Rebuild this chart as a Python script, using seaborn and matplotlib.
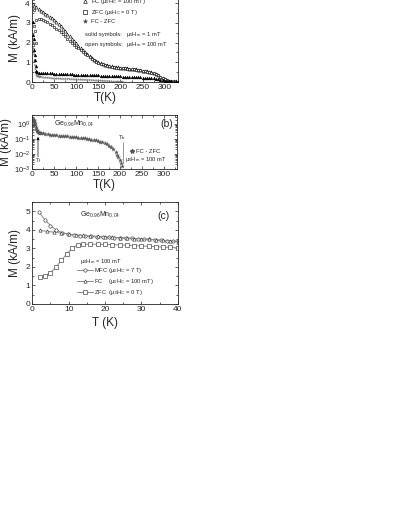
import matplotlib
matplotlib.use('Agg')
import matplotlib.pyplot as plt
from matplotlib.lines import Line2D
from matplotlib.ticker import MultipleLocator, LogLocator, NullFormatter
import seaborn as sns

# ---- panel (a): M(T) of Ge0.96Mn0.04, measured at 100 mT (open) and 1 mT (solid)
temp_a = [2, 5, 10, 15, 20, 25, 30, 35, 40, 45, 50, 55, 60, 65, 70, 75, 80, 85, 90, 95,
          100, 105, 110, 115, 120, 125, 130, 135, 140, 145, 150, 155, 160, 165, 170, 175,
          180, 185, 190, 195, 200, 205, 210, 215, 220, 225, 230, 235, 240, 245, 250, 255,
          260, 265, 270, 275, 280, 285, 290, 295, 300, 305, 310, 315, 320, 325, 330]
m_fc_100 = [3.95, 3.88, 3.78, 3.70, 3.62, 3.55, 3.47, 3.40, 3.32, 3.24,
            3.15, 3.05, 2.95, 2.83, 2.71, 2.58, 2.46, 2.33, 2.20, 2.08,
            1.96, 1.84, 1.72, 1.61, 1.50, 1.40, 1.30, 1.22, 1.14, 1.07,
            1.01, 0.95, 0.91, 0.87, 0.84, 0.81, 0.79, 0.77, 0.75, 0.74,
            0.72, 0.71, 0.70, 0.69, 0.68, 0.66, 0.65, 0.64, 0.62, 0.60,
            0.58, 0.56, 0.54, 0.52, 0.49, 0.45, 0.40, 0.34, 0.27, 0.20,
            0.14, 0.10, 0.07, 0.05, 0.04, 0.03, 0.02]
m_zfc_100 = [1.90, 2.85, 3.15, 3.20, 3.18, 3.14, 3.08, 3.02, 2.95, 2.88,
             2.80, 2.71, 2.62, 2.52, 2.42, 2.31, 2.20, 2.09, 1.98, 1.88,
             1.78, 1.70, 1.62, 1.53, 1.44, 1.35, 1.27, 1.19, 1.11, 1.04,
             0.98, 0.93, 0.89, 0.85, 0.82, 0.79, 0.77, 0.75, 0.73, 0.72,
             0.71, 0.70, 0.69, 0.68, 0.67, 0.65, 0.64, 0.63, 0.61, 0.59,
             0.57, 0.55, 0.53, 0.51, 0.48, 0.44, 0.39, 0.33, 0.26, 0.19,
             0.13, 0.09, 0.06, 0.04, 0.03, 0.02, 0.01]
# scattered open squares at the lowest temperatures
temp_zfc_low = [3, 4, 6, 8]
m_zfc_low = [4.2, 3.65, 2.6, 2.0]

temp_fc_1 = [2, 3, 4, 5, 6, 7, 8, 10, 12] + temp_a[3:]
m_fc_1 = [3.05, 2.4, 2.2, 1.6, 1.35, 1.1, 0.8, 0.55, 0.5,
          0.47, 0.46, 0.46, 0.45, 0.45, 0.44, 0.44, 0.43, 0.43, 0.42,
          0.42, 0.41, 0.41, 0.40, 0.40, 0.39, 0.38, 0.38, 0.37, 0.37,
          0.36, 0.36, 0.35, 0.35, 0.34, 0.34, 0.33, 0.33, 0.32, 0.32,
          0.31, 0.31, 0.30, 0.30, 0.29, 0.29, 0.28, 0.28, 0.27, 0.27,
          0.26, 0.26, 0.25, 0.25, 0.24, 0.24, 0.23, 0.22, 0.22, 0.21,
          0.20, 0.19, 0.18, 0.16, 0.14, 0.12, 0.09, 0.07, 0.05, 0.04,
          0.03, 0.02, 0.02, 0.01]

# ---- panel (b): FC - ZFC at 100 mT (log scale)
temp_b = [2, 3, 4, 5, 6, 7, 8, 9, 10, 11, 12, 14, 16, 18, 20,
          25, 30, 35, 40, 45, 50, 55, 60, 65, 70, 75, 80, 85, 90, 95, 100,
          105, 110, 115, 120, 125, 130, 135, 140, 145, 150, 155, 160, 165,
          170, 175, 180, 185, 190, 193, 196, 199, 202, 205]
m_diff_b = [2.2, 2.0, 1.7, 1.4, 1.1, 0.85, 0.65, 0.5, 0.4, 0.34, 0.30, 0.28, 0.27, 0.26, 0.25,
            0.235, 0.22, 0.21, 0.20, 0.19, 0.18, 0.175, 0.17, 0.165, 0.16, 0.155, 0.15, 0.145,
            0.14, 0.135, 0.13, 0.125, 0.12, 0.115, 0.11, 0.10, 0.095, 0.09, 0.085, 0.08,
            0.075, 0.068, 0.06, 0.052, 0.044, 0.036, 0.028, 0.02, 0.013, 0.009, 0.006,
            0.004, 0.0025, 0.0015]

# ---- panel (c): low temperature M(T) at 100 mT
temp_mfc = [1.8, 3.4, 5.0, 6.6, 8.2, 9.8, 11.4, 13.0, 14.6, 16.2, 17.8, 19.4, 21.0,
            22.6, 24.2, 25.8, 27.4, 29.0, 30.6, 32.2, 33.8, 35.4, 37.0, 38.6, 40.0]
m_mfc = [4.97, 4.55, 4.23, 3.98, 3.85, 3.77, 3.72, 3.68, 3.66, 3.64, 3.62, 3.61, 3.60,
         3.58, 3.57, 3.55, 3.54, 3.52, 3.50, 3.48, 3.46, 3.44, 3.42, 3.40, 3.38]
temp_fc_c = [2, 4, 6, 8, 10, 12, 14, 16, 18, 20, 22, 24, 26, 28, 30, 32, 34, 36, 38, 40]
m_fc_c = [3.97, 3.92, 3.87, 3.82, 3.77, 3.73, 3.70, 3.67, 3.65, 3.62,
          3.60, 3.58, 3.56, 3.53, 3.51, 3.48, 3.46, 3.43, 3.40, 3.36]
temp_zfc_c = [2, 3.5, 5, 6.5, 8, 9.5, 11, 12.5, 14, 16, 18, 20, 22, 24, 26, 28, 30,
              32, 34, 36, 38, 40]
m_zfc_c = [1.47, 1.50, 1.68, 1.98, 2.35, 2.70, 3.00, 3.18, 3.22, 3.22, 3.22, 3.21,
           3.20, 3.19, 3.17, 3.15, 3.13, 3.11, 3.09, 3.07, 3.05, 3.03]

sns.set_style('ticks')
plt.rcParams['font.family'] = ['Liberation Sans', 'DejaVu Sans']
plt.rcParams['mathtext.fontset'] = 'custom'
plt.rcParams['mathtext.rm'] = 'Liberation Sans'
plt.rcParams['mathtext.it'] = 'Liberation Sans'
plt.rcParams['mathtext.default'] = 'regular'

W, H = 399, 516
fig = plt.figure(figsize=(W / 100, H / 100), dpi=100)

small = 4.2  # annotation / legend text size


def px_axes(left, top, right, bottom):
    # axes rectangle given in pixel coords of the reference
    return fig.add_axes([left / W, 1 - bottom / H, (right - left) / W, (bottom - top) / H])


def style_axes(ax):
    for sp in ax.spines.values():
        sp.set_linewidth(0.6)
    ax.tick_params(which='both', direction='in', top=True, right=True, width=0.5,
                   labelsize=6, pad=1.5)
    ax.tick_params(which='major', length=2.5)
    ax.tick_params(which='minor', length=1.3)


mu = 'μ$_0$H'
sample = 'Ge$_{0.96}$Mn$_{0.04}$'

# ---------------- (a)
ax_a = px_axes(32, -6.7, 178, 82)
sns.scatterplot(x=temp_a, y=m_fc_100, marker='^', s=5, color='white',
                edgecolor='black', linewidth=0.4, ax=ax_a, zorder=3)
sns.scatterplot(x=temp_a, y=m_zfc_100, marker='s', s=4, color='white',
                edgecolor='black', linewidth=0.4, ax=ax_a, zorder=3)
sns.scatterplot(x=temp_zfc_low, y=m_zfc_low, marker='s', s=4, color='white',
                edgecolor='black', linewidth=0.4, ax=ax_a, zorder=3)
sns.scatterplot(x=temp_b, y=m_diff_b, marker='*', s=6, color='#777777',
                edgecolor='none', ax=ax_a, zorder=2)
sns.scatterplot(x=temp_fc_1, y=m_fc_1, marker='^', s=4, color='black',
                edgecolor='black', linewidth=0.3, ax=ax_a, zorder=4)
ax_a.set_xlim(0, 330)
ax_a.set_ylim(0, 4.5)
ax_a.xaxis.set_major_locator(MultipleLocator(50))
ax_a.xaxis.set_minor_locator(MultipleLocator(25))
ax_a.yaxis.set_major_locator(MultipleLocator(1))
ax_a.yaxis.set_minor_locator(MultipleLocator(0.5))
style_axes(ax_a)
ax_a.set_xlabel('T(K)', fontsize=8.5, labelpad=1)
ax_a.set_ylabel('M (kA/m)', fontsize=8.5, labelpad=3)

handles_a = [
    Line2D([], [], ls='', marker='^', ms=2.6, mfc='white', mec='black', mew=0.45),
    Line2D([], [], ls='', marker='s', ms=2.2, mfc='white', mec='black', mew=0.45),
    Line2D([], [], ls='', marker='*', ms=3.2, mfc='#444444', mec='#444444', mew=0.3),
]
labels_a = ['FC (' + mu + '$_C$ = 100 mT)', 'ZFC (' + mu + '$_C$ = 0 T)', 'FC - ZFC']
ax_a.legend(handles_a, labels_a, loc='upper left', bbox_to_anchor=(0.35, 0.955),
            frameon=False, fontsize=small, handlelength=0.8, handletextpad=0.6,
            labelspacing=0.3, borderpad=0, borderaxespad=0)
ax_a.text(0.363, 0.53, 'solid symbols:', transform=ax_a.transAxes, fontsize=small,
          va='center', ha='left')
ax_a.text(0.644, 0.53, mu + '$_m$ = 1 mT', transform=ax_a.transAxes, fontsize=small,
          va='center', ha='left')
ax_a.text(0.363, 0.425, 'open symbols:', transform=ax_a.transAxes, fontsize=small,
          va='center', ha='left')
ax_a.text(0.644, 0.425, mu + '$_m$ = 100 mT', transform=ax_a.transAxes, fontsize=small,
          va='center', ha='left')

# ---------------- (b)
ax_b = px_axes(32.3, 115, 177, 169)
sns.scatterplot(x=temp_b, y=m_diff_b, marker='*', s=9, color='#555555',
                edgecolor='#555555', linewidth=0.2, ax=ax_b)
ax_b.set_yscale('log')
ax_b.set_xlim(0, 330)
ax_b.set_ylim(1e-3, 4)
ax_b.xaxis.set_major_locator(MultipleLocator(50))
ax_b.xaxis.set_minor_locator(MultipleLocator(25))
ax_b.yaxis.set_major_locator(LogLocator(base=10, numticks=10))
ax_b.yaxis.set_minor_locator(LogLocator(base=10, subs=range(2, 10), numticks=10))
ax_b.yaxis.set_minor_formatter(NullFormatter())
style_axes(ax_b)
ax_b.tick_params(axis='y', labelsize=5.5)
ax_b.set_xlabel('T(K)', fontsize=8.5, labelpad=1)
ax_b.set_ylabel('M (kA/m)', fontsize=8.5, labelpad=1)
ax_b.text(0.15, 0.84, sample, transform=ax_b.transAxes, fontsize=5,
          va='center', ha='left')
ax_b.text(0.93, 0.84, '(b)', transform=ax_b.transAxes, fontsize=7.5,
          va='center', ha='center')
ax_b.annotate('', xy=(13, 0.14), xytext=(13, 0.0066),
              arrowprops=dict(arrowstyle='-|>', color='black', lw=0.5,
                              mutation_scale=4, shrinkA=0, shrinkB=0))
ax_b.text(14, 0.0034, 'T$_f$', fontsize=small, va='center', ha='center')
ax_b.plot([207, 207], [0.0025, 0.06], color='#888888', lw=0.6)
ax_b.text(205, 0.12, 'T$_b$', fontsize=small, va='center', ha='center')
ax_b.scatter([0.687], [0.333], marker='*', s=8, color='#555555',
             transform=ax_b.transAxes)
ax_b.text(0.72, 0.333, 'FC - ZFC', transform=ax_b.transAxes, fontsize=small,
          va='center', ha='left')
ax_b.text(0.64, 0.17, mu + '$_m$ = 100 mT', transform=ax_b.transAxes, fontsize=small,
          va='center', ha='left')

# ---------------- (c)
ax_c = px_axes(32.3, 202, 177.7, 304)
line_kw = dict(color='#8a8a8a', linewidth=0.7, markersize=2.4,
               markerfacecolor='white', markeredgecolor='#3a3a3a', markeredgewidth=0.45)
sns.lineplot(x=temp_mfc, y=m_mfc, marker='o', ax=ax_c, **line_kw)
sns.lineplot(x=temp_fc_c, y=m_fc_c, marker='^', ax=ax_c, **line_kw)
sns.lineplot(x=temp_zfc_c, y=m_zfc_c, marker='s', ax=ax_c, **line_kw)
ax_c.set_xlim(0, 40)
ax_c.set_ylim(0, 5.5)
ax_c.xaxis.set_major_locator(MultipleLocator(10))
ax_c.xaxis.set_minor_locator(MultipleLocator(5))
ax_c.yaxis.set_major_locator(MultipleLocator(1))
ax_c.yaxis.set_minor_locator(MultipleLocator(0.5))
style_axes(ax_c)
ax_c.set_xlabel('T (K)', fontsize=8.5, labelpad=3)
ax_c.set_ylabel('M (kA/m)', fontsize=8.5, labelpad=3)
ax_c.text(0.33, 0.87, sample, transform=ax_c.transAxes, fontsize=5,
          va='center', ha='left')
ax_c.text(0.9, 0.86, '(c)', transform=ax_c.transAxes, fontsize=7.5,
          va='center', ha='center')
ax_c.text(0.33, 0.415, mu + '$_m$ = 100 mT', transform=ax_c.transAxes, fontsize=small,
          va='center', ha='left')
handles_c = [
    Line2D([], [], marker='o', **line_kw),
    Line2D([], [], marker='^', **line_kw),
    Line2D([], [], marker='s', **line_kw),
]
labels_c = ['MFC (' + mu + '$_C$ = 7 T)', 'FC    (' + mu + '$_C$ = 100 mT)',
            'ZFC  (' + mu + '$_C$ = 0 T)']
ax_c.legend(handles_c, labels_c, loc='upper left', bbox_to_anchor=(0.31, 0.37),
            frameon=False, fontsize=small, handlelength=2.6, handletextpad=0.3,
            labelspacing=0.3, borderpad=0, borderaxespad=0)

fig.savefig('out.png', dpi=100)
